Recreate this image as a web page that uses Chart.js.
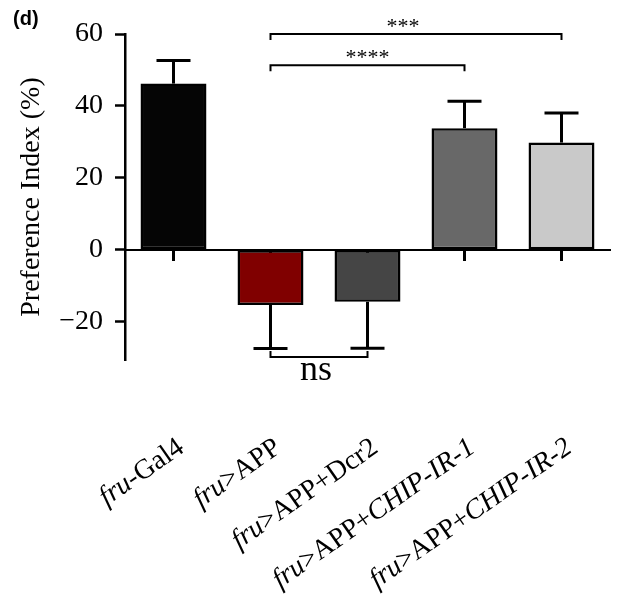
<!DOCTYPE html>
<html>
<head>
<meta charset="utf-8">
<script src="https://cdn.jsdelivr.net/npm/chart.js@4.4.1/dist/chart.umd.min.js"></script>
<style>
  html, body { margin: 0; padding: 0; background: #fff; }
  #wrap { width: 619px; height: 597px; position: relative; }
</style>
</head>
<body>
<div id="wrap"><canvas id="chart"></canvas></div>
<script>
const categories = ['fru-Gal4', 'fru>APP', 'fru>APP+Dcr2', 'fru>APP+CHIP-IR-1', 'fru>APP+CHIP-IR-2'];
const means = [46.2, -15.4, -14.5, 33.8, 29.8];
const sem = [6.4, 12.1, 12.9, 7.5, 8.2];
const barColors = ['#050505', '#800000', '#454545', '#686868', '#c9c9c9'];
const yTicks = [-20, 0, 20, 40, 60];
// significance brackets (bar index from/to, height in y units)
const brackets = [
  { from: 1, to: 4, y: 60, text: '***', dx: -13 },
  { from: 1, to: 3, y: 51.3, text: '****', dx: 0 },
  { from: 1, to: 2, y: -29.9, text: 'ns', dx: -3 }
];

const serif = '"Liberation Serif", "Times New Roman", serif';
const italicPart = /(fru|CHIP-IR-\d)/;

function partFont(p) {
  const m = p.match(italicPart);
  return (m && m[0] === p ? 'italic ' : '') + '28px ' + serif;
}

const errorBars = {
  id: 'errorBars',
  afterDatasetsDraw(chart) {
    const ctx = chart.ctx;
    const xs = chart.scales.x, ys = chart.scales.y;
    ctx.save();
    ctx.strokeStyle = '#000';
    ctx.lineWidth = 3;
    means.forEach((m, i) => {
      const cx = xs.getPixelForValue(i);
      const end = m >= 0 ? m + sem[i] : m - sem[i];
      const y0 = ys.getPixelForValue(m);
      const y1 = ys.getPixelForValue(end);
      ctx.beginPath();
      ctx.moveTo(cx, y0);
      ctx.lineTo(cx, y1);
      ctx.stroke();
      ctx.beginPath();
      ctx.moveTo(cx - 17, y1);
      ctx.lineTo(cx + 17, y1);
      ctx.stroke();
    });
    ctx.restore();
  }
};

const extras = {
  id: 'extras',
  afterDraw(chart) {
    const ctx = chart.ctx;
    const xs = chart.scales.x, ys = chart.scales.y;
    ctx.save();

    // panel letter
    ctx.fillStyle = '#000';
    ctx.font = 'bold 20px "Liberation Sans", Arial, sans-serif';
    ctx.textAlign = 'left';
    ctx.textBaseline = 'alphabetic';
    ctx.fillText('(d)', 13, 25);

    // brackets
    ctx.strokeStyle = '#000';
    ctx.lineWidth = 2;
    brackets.forEach(b => {
      const xa = xs.getPixelForValue(b.from);
      const xb = xs.getPixelForValue(b.to);
      const yy = ys.getPixelForValue(b.y);
      const dir = b.y < 0 ? -1 : 1;
      ctx.beginPath();
      ctx.moveTo(xa, yy + dir * 6);
      ctx.lineTo(xa, yy);
      ctx.lineTo(xb, yy);
      ctx.lineTo(xb, yy + dir * 6);
      ctx.stroke();
      ctx.textAlign = 'center';
      ctx.textBaseline = 'alphabetic';
      const mid = (xa + xb) / 2 + b.dx;
      if (b.y < 0) {
        ctx.font = '36px ' + serif;
        ctx.fillText(b.text, mid, yy + 23);
      } else {
        ctx.font = '22px ' + serif;
        ctx.fillText(b.text, mid, yy - 1);
      }
    });

    // category labels, italic parts mixed with roman
    categories.forEach((label, i) => {
      const cx = xs.getPixelForValue(i);
      const parts = label.split(italicPart).filter(Boolean);
      const widths = parts.map(p => { ctx.font = partFont(p); return ctx.measureText(p).width; });
      const total = widths.reduce((a, w) => a + w, 0);
      ctx.save();
      ctx.translate(cx + 12, 451);
      ctx.rotate(-35 * Math.PI / 180);
      ctx.textAlign = 'left';
      ctx.textBaseline = 'alphabetic';
      let pos = -total;
      parts.forEach((p, k) => {
        ctx.font = partFont(p);
        ctx.fillText(p, pos, 0);
        pos += widths[k];
      });
      ctx.restore();
    });

    ctx.restore();
  }
};

new Chart(document.getElementById('chart'), {
  type: 'bar',
  data: {
    labels: categories,
    datasets: [{
      data: means,
      backgroundColor: barColors,
      borderColor: '#000',
      borderWidth: 2.5,
      borderSkipped: false,
      barPercentage: 0.68,
      categoryPercentage: 1
    }]
  },
  options: {
    responsive: true,
    maintainAspectRatio: false,
    animation: false,
    layout: {
      padding: { left: 0, right: 9, top: 34, bottom: 237 }
    },
    plugins: {
      legend: { display: false },
      tooltip: { enabled: false }
    },
    scales: {
      x: {
        position: { y: 0 },
        z: 1,
        ticks: { display: false },
        grid: {
          drawOnChartArea: false,
          drawTicks: true,
          tickLength: 10,
          tickWidth: 3,
          tickColor: '#000',
          offset: false
        },
        border: { color: '#000', width: 2 }
      },
      y: {
        min: -30.7,
        max: 60,
        afterBuildTicks: scale => {
          scale.ticks = yTicks.map(v => ({ value: v }));
        },
        afterFit: scale => {
          scale.width = 125;
        },
        ticks: {
          color: '#000',
          padding: 12,
          font: { family: serif, size: 28 },
          callback: v => v < 0 ? '\u2212' + Math.abs(v) : String(v)
        },
        grid: {
          drawOnChartArea: false,
          drawTicks: true,
          tickLength: 10,
          tickWidth: 2.5,
          tickColor: '#000'
        },
        border: { color: '#000', width: 2.5 },
        title: {
          display: true,
          text: 'Preference Index (%)',
          color: '#000',
          font: { family: serif, size: 28 },
          padding: { top: 15, bottom: 0 }
        }
      }
    }
  },
  plugins: [errorBars, extras]
});
</script>
</body>
</html>
